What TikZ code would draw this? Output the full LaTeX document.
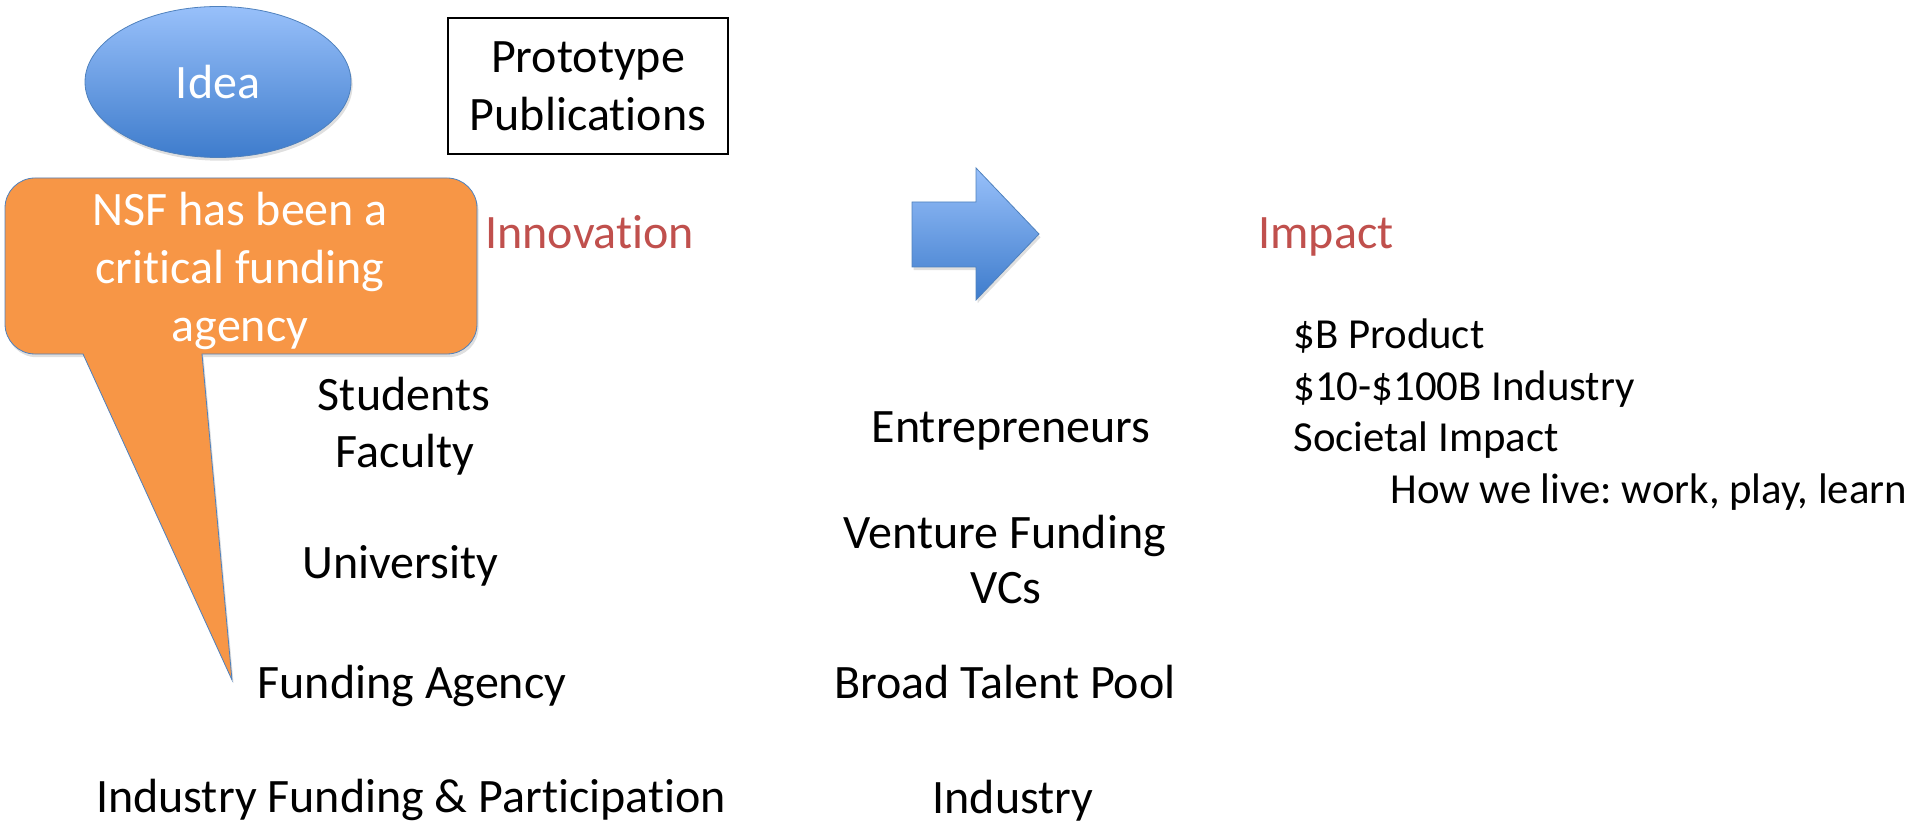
\documentclass[tikz,border=0pt]{standalone}
\usepackage{fontspec}
\setmainfont{Carlito}[Ligatures=NoCommon]
\frenchspacing
\usetikzlibrary{shapes.geometric,shadows}
\definecolor{edgeblue}{RGB}{79,129,189}
\definecolor{lightblue}{RGB}{152,192,250}
\definecolor{deepblue}{RGB}{62,124,204}
\definecolor{callorange}{RGB}{247,150,70}
\definecolor{headred}{RGB}{192,80,77}
\tikzset{
  word/.style = {inner sep=0pt, font=\fontsize{24}{28.8}\selectfont},
  small/.style = {inner sep=0pt, font=\fontsize{21.4}{25.5}\selectfont},
  heading/.style = {word, text=headred},% red titles
  soft/.style = {drop shadow={opacity=0.25, shadow xshift=0.8pt,
    shadow yshift=-1.6pt}},
  bubble/.style = {ellipse, draw=edgeblue, thin, top color=lightblue,
    bottom color=deepblue, text=white, word, soft},% blue oval
  callout/.style = {draw=edgeblue, thin, fill=callorange, soft},
  blockarrow/.style = {draw=edgeblue, thin, top color=lightblue,
    bottom color=deepblue, soft}
}
\begin{document}
\begin{tikzpicture}[x=0.5pt,y=-0.5pt]
  \useasboundingbox (0,0) rectangle (1909,823);
  % top row
  \node (idea) [bubble, minimum width=133pt, minimum height=75.5pt] at (218,82) {Idea};
  \node (proto) [word, draw, line width=0.9pt, align=center, minimum width=140pt,
    minimum height=68pt] at (588,86) {Prototype\\Publications};
  % speech bubble with its pointer
  \draw[callout] (83,354) [rounded corners=15pt] -- (5,354) -- (5,178) -- (477,178)
    -- (477,354) [sharp corners] -- (202,354) -- (232,680) -- cycle;
  \node (nsf) [word, text=white, align=center] at (240,271)
    {NSF has been a\\critical funding\\agency};
  \node (innovation) [heading, anchor=base west] at (485,249) {Innovation};
  % left column
  \node (students) [word, anchor=base] at (404,410) {Students};
  \node (faculty) [word, anchor=base] at (405,467) {Faculty};
  \node (university) [word, anchor=base] at (400,578) {University};
  \node (agency) [word, anchor=base] at (412,698) {Funding Agency};
  \node (indfund) [word, anchor=base] at (411,812) {Industry Funding \& Participation};
  % big arrow
  \draw[blockarrow] (912,202) -- (976,202) -- (976,168) -- (1039,234)
    -- (976,300) -- (976,267) -- (912,267) -- cycle;
  % middle column
  \node (entre) [word, anchor=base] at (1011,442) {Entrepreneurs};
  \node (venture) [word, anchor=base] at (1005,548) {Venture Funding};
  \node (vcs) [word, anchor=base] at (1006,603) {VCs};
  \node (talent) [word, anchor=base] at (1005,698) {Broad Talent Pool};
  \node (industry) [word, anchor=base] at (1013,813) {Industry};
  % right side
  \node (impact) [heading, anchor=base west] at (1258,249) {Impact};
  \node (bprod) [small, anchor=base west] at (1293,349) {\$B Product};
  \node (tenb) [small, anchor=base west] at (1293,400) {\$10-\$100B Industry};
  \node (societal) [small, anchor=base west] at (1293,451) {Societal Impact};
  \node (howlive) [small, anchor=base west] at (1390,503) {How we live: work, play, learn};
\end{tikzpicture}
\end{document}
